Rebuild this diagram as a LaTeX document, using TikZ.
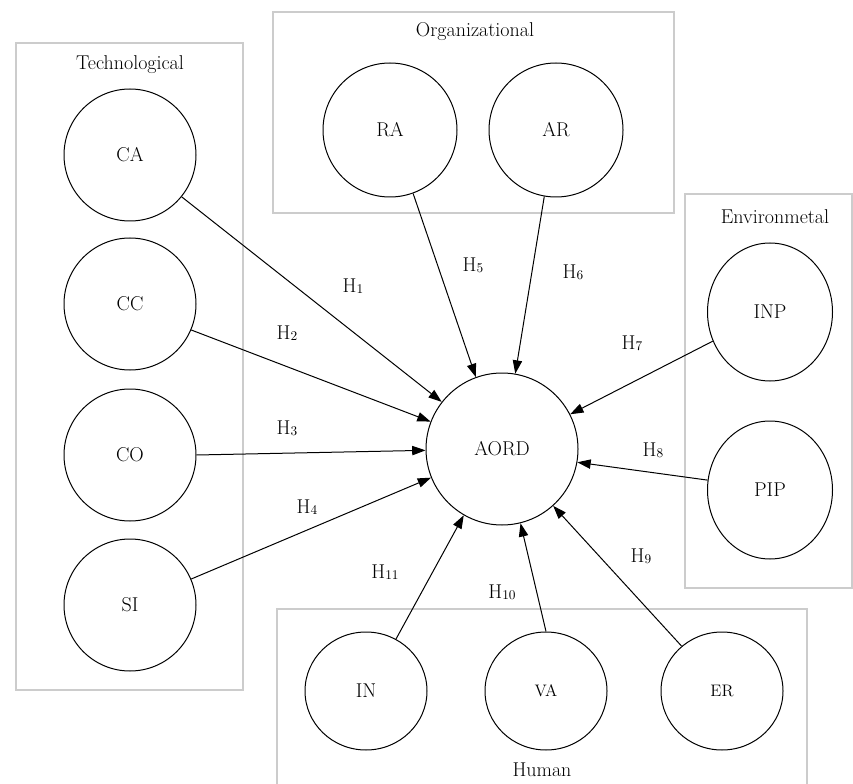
\documentclass[tikz,border=0pt]{standalone}
\usetikzlibrary{arrows.meta,shapes.geometric}
\newcommand\hsub[1]{{\fontsize{10}{10}\selectfont\raisebox{-0.6pt}{#1}}}
\begin{document}
\begin{tikzpicture}[x=0.75pt,y=-0.75pt,
  every node/.style={font=\fontsize{15}{17}\selectfont},
  grp/.style={draw=black!20, line width=1.3pt},
  var/.style={circle, draw, line width=0.75pt, inner sep=0pt, minimum size=#1},
  evar/.style 2 args={ellipse, draw, line width=0.75pt, inner sep=0pt, minimum width=#1, minimum height=#2},
  hyp/.style={-{Triangle[length=10pt,width=7pt]}, line width=0.75pt},
  small/.style={font=\fontsize{12.5}{14}\selectfont}
]
\useasboundingbox (0,0) rectangle (853,784);
\clip (0,0) rectangle (853,784);

% group boxes
\draw[grp] (16,43) rectangle (243,690);
\draw[grp] (273,12) rectangle (674,213);
\draw[grp] (685,194) rectangle (852,588);
\draw[grp] (277,609) rectangle (807,800);

% group titles
\node (tTech) at (130,65) {Technological};
\node (tOrg) at (475,32) {Organizational};
\node (tEnv) at (775,217) {Environmetal};
\node (tHum) at (542,770) {Human};

% variables
\node[var=99pt] (CA) at (130,155) {CA};
\node[var=99pt] (CC) at (130,304) {CC};
\node[var=99pt] (CO) at (130,455) {CO};
\node[var=99pt] (SI) at (130,605) {SI};
\node[var=100.5pt] (RA) at (390,130) {RA};
\node[var=100.5pt] (AR) at (556,130) {AR};
\node[var=114pt] (AORD) at (502,449) {AORD};
\node[evar={93.75pt}{103.5pt}] (INP) at (770,312) {INP};
\node[evar={93.75pt}{103.5pt}] (PIP) at (770,490) {PIP};
\node[evar={91.5pt}{88.5pt}] (IN) at (366,691) {IN};
\node[evar={91.5pt}{88.5pt}, small] (VA) at (546,691) {VA};
\node[evar={91.5pt}{88.5pt}, small] (ER) at (722,691) {ER};

% hypotheses
\draw[hyp] (CA.-39.5) -- (AORD.142);
\draw[hyp] (CC.-23) -- (AORD.159);
\draw[hyp] (CO.0) -- (AORD.181);
\draw[hyp] (SI.23) -- (AORD.202.5);
\draw[hyp] (RA.-70) -- (AORD.110);
\draw[hyp] (AR.-100) -- (AORD.80);
\draw[hyp] (INP.207.5) -- (AORD.27);
\draw[hyp] (PIP.171) -- (AORD.-10);
\draw[hyp] (ER.132) -- (AORD.312);
\draw[hyp] (VA.90) -- (AORD.284);
\draw[hyp] (IN.60.5) -- (AORD.240);

% labels
\node (h1) at (353,286) {H\hsub{1}};
\node (h2) at (287,333) {H\hsub{2}};
\node (h3) at (287,428) {H\hsub{3}};
\node (h4) at (307,507) {H\hsub{4}};
\node (h5) at (473,265) {H\hsub{5}};
\node (h6) at (573,272) {H\hsub{6}};
\node (h7) at (632,343) {H\hsub{7}};
\node (h8) at (653,450) {H\hsub{8}};
\node (h9) at (641,556) {H\hsub{9}};
\node (h10) at (502,592) {H\hsub{10}};
\node (h11) at (385,572) {H\hsub{11}};
\end{tikzpicture}
\end{document}
